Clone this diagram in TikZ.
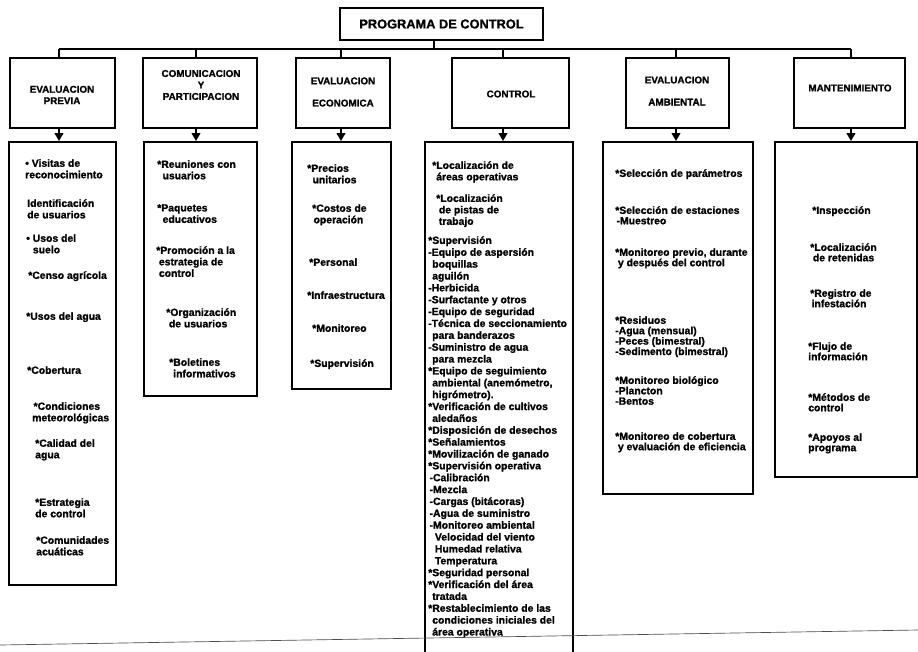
\documentclass[tikz,border=0pt]{standalone}
\usepackage{fontspec}
\setmainfont{Liberation Sans}[BoldFeatures={FakeBold=1.2}]
\usetikzlibrary{arrows.meta,fit}
\begin{document}
\begin{tikzpicture}[x=0.75pt,y=-0.75pt,
  bx/.style={draw, line width=1.4pt, inner sep=0pt},
  bus/.style={line width=1.9pt},
  drop/.style={line width=1.3pt},
  arr/.style={line width=1.3pt, -{Triangle[width=6.5pt,length=6pt]}},
  txt/.style={anchor=north west, inner sep=0pt, align=left, font=\bfseries\fontsize{7.8}{8.6}\selectfont},
  txtc/.style={txt, font=\bfseries\fontsize{7.8}{8.9}\selectfont},
  txtf/.style={txt, font=\bfseries\fontsize{7.8}{7.8}\selectfont},
  htxt/.style={inner sep=0pt, align=center, font=\bfseries\fontsize{7.4}{8.6}\selectfont},
  scanline/.style={line width=0.5pt, black!70}]
\path[use as bounding box] (0,0) rectangle (918,651);
\clip (0,0) rectangle (918,651);

% top box
\node[bx, fit={(340,8) (543,40)}] (top) {};
\node[inner sep=0pt, font=\bfseries\fontsize{9.6}{11}\selectfont] (toptxt) at (top.center) {PROGRAMA DE CONTROL};

% headers
\node[bx, fit={(10,58) (115,128)}] (h1) {};
\node[bx, fit={(143,58) (257,128)}] (h2) {};
\node[bx, fit={(296,58) (390,128)}] (h3) {};
\node[bx, fit={(452,58) (569,128)}] (h4) {};
\node[bx, fit={(626,58) (729,128)}] (h5) {};
\node[bx, fit={(794,58) (905,128)}] (h6) {};

\node[htxt] (h1t) at (62,95) {EVALUACION\\PREVIA};
\node[htxt] (h2t) at (201,85) {COMUNICACION\\Y\\PARTICIPACION};
\node[htxt] (h3t) at (343,92) {EVALUACION\\[8pt]ECONOMICA};
\node[htxt] (h4t) at (511,94) {CONTROL};
\node[htxt] (h5t) at (677,91) {EVALUACION\\[8pt]AMBIENTAL};
\node[htxt] (h6t) at (850,88) {MANTENIMIENTO};

% content boxes
\node[bx, fit={(9,142) (116,585)}] (c1) {};
\node[bx, fit={(144,142) (257,396)}] (c2) {};
\node[bx, fit={(292,142) (391,389)}] (c3) {};
\node[bx, fit={(425,142) (573,700)}] (c4) {};
\node[bx, fit={(603,142) (753,494)}] (c5) {};
\node[bx, fit={(775,142) (917,477)}] (c6) {};

% connectors
\coordinate (dt) at (434,49);
\coordinate (d1) at (59,49);
\coordinate (d2) at (196,49);
\coordinate (d3) at (341,49);
\coordinate (d4) at (503,49);
\coordinate (d5) at (676,49);
\coordinate (d6) at (851,49);
\draw[bus] (d1) -- (d6);
\draw[drop] (top.south -| dt) -- (dt);
\foreach \i in {1,...,6}{
  \draw[drop] (d\i) -- (d\i |- h\i.north);
  \draw[arr] (d\i |- h\i.south) -- (d\i |- c\i.north);
}

% box 1 texts
\node[txt] (t1a) at (25,159) {\textbullet\ Visitas de\\reconocimiento};
\node[txt] (t1b) at (27,199) {Identificación\\de usuarios};
\node[txt] (t1c) at (26,234) {\textbullet\ Usos del\\\hspace*{5pt}suelo};
\node[txt] (t1d) at (28,271) {*Censo agrícola};
\node[txt] (t1e) at (26,312) {*Usos del agua};
\node[txt] (t1f) at (27,366) {*Cobertura};
\node[txt] (t1g) at (32,402) {\hspace*{1pt}*Condiciones\\meteorológicas};
\node[txt] (t1h) at (35,439) {*Calidad del\\agua};
\node[txt] (t1i) at (35,498) {*Estrategia\\de control};
\node[txt] (t1j) at (36,536) {*Comunidades\\acuáticas};

% box 2 texts
\node[txt] (t2a) at (157,160) {*Reuniones con\\\hspace*{4pt}usuarios};
\node[txt] (t2b) at (157,204) {*Paquetes\\\hspace*{4pt}educativos};
\node[txt] (t2c) at (156,246) {*Promoción a la\\\hspace*{2pt}estrategia de\\\hspace*{2pt}control};
\node[txt] (t2d) at (166,308) {*Organización\\\hspace*{2pt}de usuarios};
\node[txt] (t2e) at (169,358) {*Boletines\\\hspace*{3pt}informativos};

% box 3 texts
\node[txt] (t3a) at (307,164) {*Precios\\\hspace*{4pt}unitarios};
\node[txt] (t3b) at (312,204) {*Costos de\\\hspace*{1pt}operación};
\node[txt] (t3c) at (309,258) {*Personal};
\node[txt] (t3d) at (307,291) {*Infraestructura};
\node[txt] (t3e) at (312,324) {*Monitoreo};
\node[txt] (t3f) at (310,359) {*Supervisión};

% box 4 texts
\node[txt] (t4a) at (432,161) {*Localización de\\\hspace*{3pt}áreas operativas};
\node[txt] (t4b) at (436,194) {*Localización\\\hspace*{2pt}de pistas de\\\hspace*{2pt}trabajo};
\node[txtc] (t4c) at (428,236) {*Supervisión\\
-Equipo de aspersión\\
\hspace*{3pt}boquillas\\
\hspace*{3pt}aguilón\\
-Herbicida\\
-Surfactante y otros\\
-Equipo de seguridad\\
-Técnica de seccionamiento\\
\hspace*{3pt}para banderazos\\
-Suministro de agua\\
\hspace*{3pt}para mezcla\\
*Equipo de seguimiento\\
\hspace*{3pt}ambiental (anemómetro,\\
\hspace*{3pt}higrómetro).\\
*Verificación de cultivos\\
\hspace*{3pt}aledaños\\
*Disposición de desechos\\
*Señalamientos\\
*Movilización de ganado\\
*Supervisión operativa\\
\hspace*{1pt}-Calibración\\
\hspace*{1pt}-Mezcla\\
\hspace*{1pt}-Cargas (bitácoras)\\
\hspace*{1pt}-Agua de suministro\\
\hspace*{1pt}-Monitoreo ambiental\\
\hspace*{5pt}Velocidad del viento\\
\hspace*{5pt}Humedad relativa\\
\hspace*{5pt}Temperatura\\
*Seguridad personal\\
*Verificación del área\\
\hspace*{3pt}tratada\\
*Restablecimiento de las\\
\hspace*{3pt}condiciones iniciales del\\
\hspace*{3pt}área operativa};

% box 5 texts
\node[txtf] (t5a) at (615,169) {*Selección de parámetros};
\node[txtf] (t5b) at (615,206) {*Selección de estaciones\\\hspace*{1pt}-Muestreo};
\node[txtf] (t5c) at (615,248) {*Monitoreo previo, durante\\\hspace*{2pt}y después del control};
\node[txtf] (t5d) at (615,316) {*Residuos\\-Agua (mensual)\\-Peces (bimestral)\\-Sedimento (bimestral)};
\node[txtf] (t5e) at (615,376) {*Monitoreo biológico\\-Plancton\\-Bentos};
\node[txtf] (t5f) at (615,432) {*Monitoreo de cobertura\\\hspace*{2pt}y evaluación de eficiencia};

% box 6 texts
\node[txtf] (t6a) at (812,206) {*Inspección};
\node[txtf] (t6b) at (810,243) {*Localización\\\hspace*{2pt}de retenidas};
\node[txtf] (t6c) at (810,289) {*Registro de\\\hspace*{1pt}infestación};
\node[txtf] (t6d) at (808,342) {*Flujo de\\información};
\node[txtf] (t6e) at (808,393) {*Métodos de\\control};
\node[txtf] (t6f) at (808,433) {*Apoyos al\\programa};

% scan edge line at the bottom
\coordinate (sl) at (0,645);
\coordinate (sr) at (918,630);
\draw[scanline] (sl) -- (sr);
\end{tikzpicture}
\end{document}
